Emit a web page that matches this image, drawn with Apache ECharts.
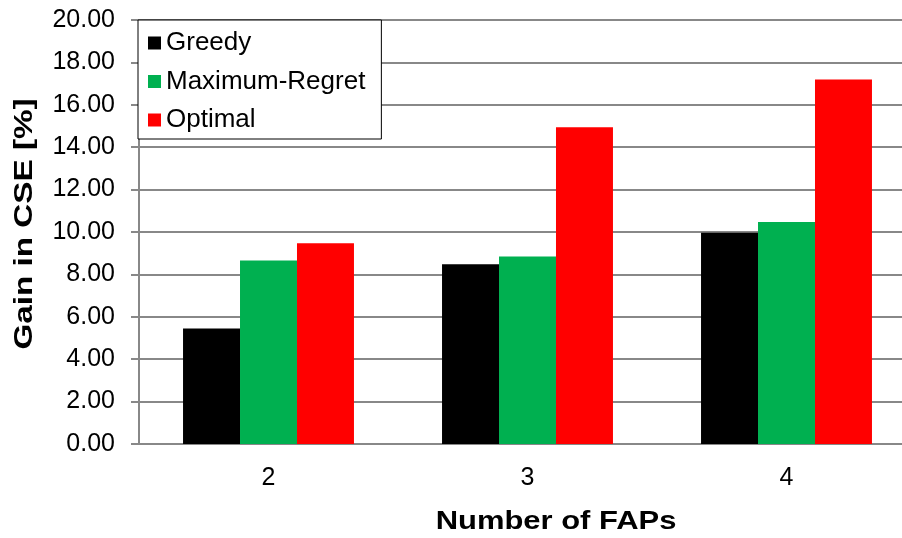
<!DOCTYPE html>
<html>
<head>
<meta charset="utf-8">
<script src="https://cdn.jsdelivr.net/npm/echarts@6/dist/echarts.min.js"></script>
<style>html,body{margin:0;padding:0;background:#fff}#c{width:902px;height:538px}</style>
</head>
<body>
<div id="c"></div>
<script>
const categories = ['2', '3', '4'];
const greedy = [5.45, 8.48, 9.97];
const maxRegret = [8.65, 8.85, 10.47];
const optimal = [9.47, 14.94, 17.19];
const seriesNames = ['Greedy', 'Maximum-Regret', 'Optimal'];
const colors = ['#000000', '#00B050', '#FF0000'];
const xTitle = 'Number of FAPs';
const yTitle = 'Gain in CSE [%]';

const chart = echarts.init(document.getElementById('c'), null, {renderer: 'canvas'});
const font = 'Liberation Sans, Arial, sans-serif';
chart.setOption({
  animation: false,
  grid: {left: 139, width: 777, top: 20, bottom: 94, containLabel: false, outerBoundsMode: 'none'},
  legend: {
    orient: 'vertical', left: 138, top: 20,
    data: seriesNames,
    icon: 'rect', itemWidth: 13, itemHeight: 13, itemGap: 12.5,
    padding: [10, 16, 6, 10],
    backgroundColor: '#fff', borderColor: '#000', borderWidth: 1,
    textStyle: {fontFamily: font, fontSize: 26, color: '#000'}
  },
  graphic: [
    {type: 'text', x: 556, y: 522, scaleX: 1.19,
      style: {text: xTitle, font: 'bold 26px ' + font, fill: '#000', align: 'center', verticalAlign: 'middle'}},
    {type: 'text', x: 25, y: 224, rotation: Math.PI / 2, scaleX: 1.33,
      style: {text: yTitle, font: 'bold 25px ' + font, fill: '#000', align: 'center', verticalAlign: 'middle'}}
  ],
  xAxis: {
    type: 'category', data: categories,
    axisLine: {lineStyle: {color: '#888', width: 2}},
    axisTick: {show: false},
    axisLabel: {fontFamily: font, fontSize: 25, color: '#000', margin: 22}
  },
  yAxis: {
    type: 'value', min: 0, max: 20, interval: 2,
    axisLine: {show: true, lineStyle: {color: '#888', width: 2}},
    axisTick: {show: true, length: 8, lineStyle: {color: '#888', width: 2}},
    splitLine: {lineStyle: {color: '#888', width: 2}},
    axisLabel: {fontFamily: font, fontSize: 25, color: '#000', margin: 24,
      formatter: v => v.toFixed(2)}
  },
  series: [greedy, maxRegret, optimal].map((d, i) => ({
    type: 'bar', name: seriesNames[i], data: d,
    itemStyle: {color: colors[i]},
    barGap: '0%', barCategoryGap: '34%'
  }))
});
</script>
</body>
</html>
